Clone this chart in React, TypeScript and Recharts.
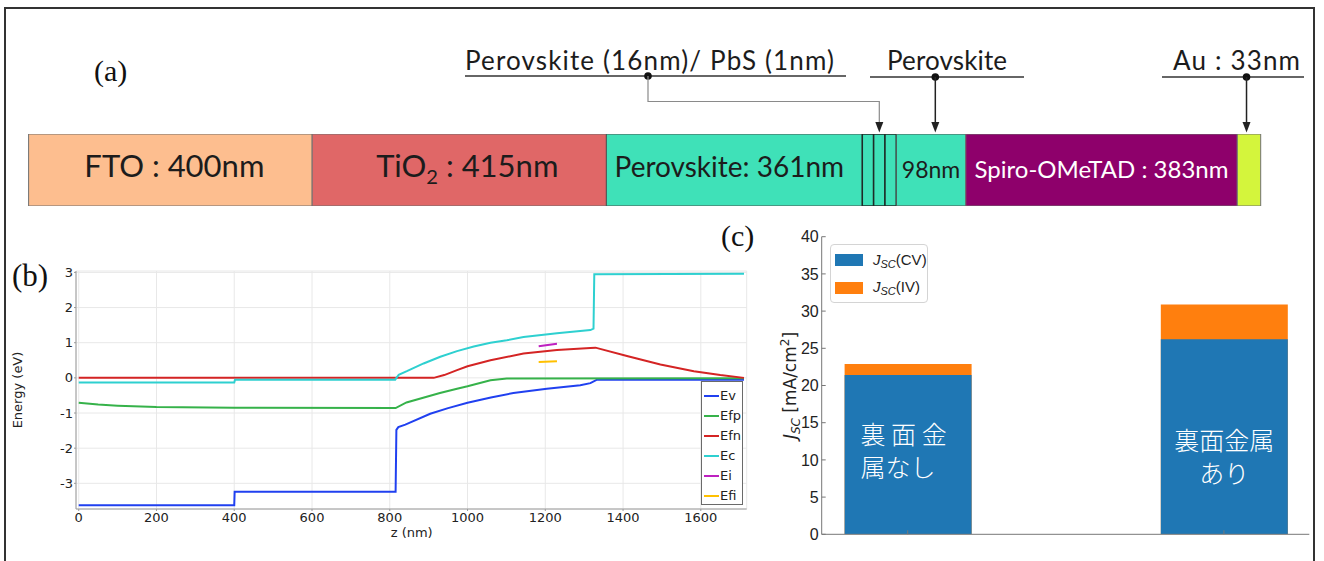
import React from 'react';
import { BarChart, Bar, XAxis, YAxis, LabelList, LineChart, Line, CartesianGrid, Legend } from 'recharts';

// ---------------- Panel (a): device layer stack ----------------
const layerKeys = ['fto', 'tio2', 'pero1', 'thinA', 'thinB', 'thinC', 'pero2', 'spiro', 'au'];
const layerThicknessNm = [400, 415, 361, 16, 16, 16, 98, 383, 33];
const layerLabels = ['FTO : 400nm', 'TiO₂ : 415nm', 'Perovskite: 361nm', '', '', '', '98nm', 'Spiro-OMeTAD : 383nm', ''];
const annotationTexts = ['Perovskite (16nm)/ PbS (1nm)', 'Perovskite', 'Au : 33nm'];
const annotationTargetNm = [1200, 1279, 1718];

// styles for panel (a)
const layerColors = ['#FDBE8F', '#E06767', '#3FE1B8', '#3FE1B8', '#3FE1B8', '#3FE1B8', '#3FE1B8', '#8E006B', '#D4F53C'];
const layerStrokes = ['#707070', '#707070', '#505050', '#1e2b27', '#1e2b27', '#1e2b27', '#505050', '#707070', '#707070'];
const layerTextColors = ['#1c1c1c', '#1c1c1c', '#1c1c1c', '', '', '', '#1c1c1c', '#ffffff', ''];
const layerFontSizes = [31, 31, 28, 0, 0, 0, 23, 24, 0];
const layerBaselineOffsets = [43, 43, 43, 0, 0, 0, 44, 44, 0];
const layerTextShift = [4, 8, -5, 0, 0, 0, 0, 0, 0];
const annotationTextX = [465, 887, 1173];
const annotationTextWidth = [369, 120, 127];
const annotationLine = [[465, 846, 76], [870, 1024, 77], [1162, 1304, 77]];

const A_LEFT = 28.6;
const A_RIGHT = 63.3;
const A_WIDTH = 1324;
const totalNm = layerThicknessNm.reduce((s, v) => s + v, 0);
const xOfNm = (nm: number) => A_LEFT + (nm * (A_WIDTH - A_LEFT - A_RIGHT)) / totalNm;

// ---------------- Panel (b): band diagram ----------------
const evPoints = [
  { z: 0, e: -3.62 }, { z: 400, e: -3.62 }, { z: 401, e: -3.24 }, { z: 815, e: -3.24 },
  { z: 817, e: -1.48 }, { z: 822, e: -1.4 }, { z: 840, e: -1.33 }, { z: 904, e: -1.02 },
  { z: 950, e: -0.86 }, { z: 1000, e: -0.71 }, { z: 1060, e: -0.56 }, { z: 1118, e: -0.43 },
  { z: 1204, e: -0.31 }, { z: 1290, e: -0.21 }, { z: 1316, e: -0.15 }, { z: 1333, e: -0.05 },
  { z: 1711, e: -0.05 },
];
const efpPoints = [
  { z: 0, e: -0.71 }, { z: 50, e: -0.76 }, { z: 100, e: -0.79 }, { z: 200, e: -0.83 },
  { z: 400, e: -0.85 }, { z: 815, e: -0.86 }, { z: 843, e: -0.7 }, { z: 929, e: -0.43 },
  { z: 973, e: -0.31 }, { z: 1000, e: -0.24 }, { z: 1059, e: -0.07 }, { z: 1101, e: -0.02 },
  { z: 1711, e: -0.01 },
];
const efnPoints = [
  { z: 0, e: 0 }, { z: 913, e: 0 }, { z: 940, e: 0.08 }, { z: 973, e: 0.22 },
  { z: 1000, e: 0.33 }, { z: 1059, e: 0.5 }, { z: 1144, e: 0.69 }, { z: 1230, e: 0.79 },
  { z: 1316, e: 0.85 }, { z: 1329, e: 0.86 }, { z: 1410, e: 0.62 }, { z: 1496, e: 0.38 },
  { z: 1582, e: 0.19 }, { z: 1650, e: 0.08 }, { z: 1711, e: 0 },
];
const ecPoints = [
  { z: 0, e: -0.13 }, { z: 400, e: -0.13 }, { z: 402, e: -0.05 }, { z: 814, e: -0.05 },
  { z: 823, e: 0.09 }, { z: 844, e: 0.19 }, { z: 887, e: 0.41 }, { z: 930, e: 0.6 },
  { z: 973, e: 0.76 }, { z: 1016, e: 0.89 }, { z: 1059, e: 1.0 }, { z: 1101, e: 1.07 },
  { z: 1144, e: 1.16 }, { z: 1230, e: 1.27 }, { z: 1316, e: 1.36 }, { z: 1324, e: 1.4 },
  { z: 1326, e: 2.95 }, { z: 1711, e: 2.96 },
];
const eiPoints = [{ z: 1183, e: 0.9 }, { z: 1230, e: 0.97 }];
const efiPoints = [{ z: 1183, e: 0.45 }, { z: 1230, e: 0.47 }];

const seriesNames = ['Ev', 'Efp', 'Efn', 'Ec', 'Ei', 'Efi'];
const seriesData = [evPoints, efpPoints, efnPoints, ecPoints, eiPoints, efiPoints];
const seriesColors = ['#2040F0', '#36B24A', '#D42424', '#2ED0D0', '#BE20C0', '#FFC000'];
const zTicks = [0, 200, 400, 600, 800, 1000, 1200, 1400, 1600];
const energyTicks = [-3, -2, -1, 0, 1, 2, 3];

// ---------------- Panel (c): Jsc bars ----------------
const jscCategories = ['裏面金属なし', '裏面金属あり'];
const jscCV = [21.4, 26.2];
const jscIV = [22.9, 30.9];
const jscTicks = [0, 5, 10, 15, 20, 25, 30, 35, 40];
const barTextLines = [['裏 面 金', '属なし'], ['裏面金属', 'あり']];
const jscSeriesLabels = ['CV', 'IV'];
const jscColors = ['#1F77B4', '#FF7F0E'];
const barTextAlign = ['start', 'middle'];
const barTextBaselines = [[-90, -57], [-84, -51]];

const jscData = jscCategories.map((name, i) => ({ x: i, name, cv: jscCV[i], iv: jscIV[i] }));

function renderLayerLabel(p: any, i: number) {
  const label = layerLabels[i];
  if (!label) return null;
  const cx = Number(p.x) + Number(p.width) / 2 + layerTextShift[i];
  const y = Number(p.y) + layerBaselineOffsets[i];
  const fs = layerFontSizes[i];
  const parts = label.split('₂');
  return (
    <text x={cx} y={y} textAnchor="middle" fill={layerTextColors[i]} fontFamily="Lato, 'Open Sans', sans-serif" fontSize={fs}>
      {parts.length === 2 ? (
        <>
          <tspan>{parts[0]}</tspan>
          <tspan fontSize={fs * 0.65} dy={7}>2</tspan>
          <tspan dy={-7}>{parts[1]}</tspan>
        </>
      ) : (
        label
      )}
    </text>
  );
}

function PanelA() {
  const row: any = { name: 'stack' };
  layerKeys.forEach((k, i) => (row[k] = layerThicknessNm[i]));
  return (
    <div style={{ position: 'absolute', left: 0, top: 134 }}>
      <BarChart width={A_WIDTH} height={72} layout="vertical" data={[row]} margin={{ top: 0, right: A_RIGHT, bottom: 0, left: A_LEFT }} barCategoryGap={0}>
        <XAxis type="number" hide domain={[0, totalNm]} />
        <YAxis type="category" dataKey="name" hide />
        {layerKeys.map((k, i) => (
          <Bar key={k} dataKey={k} stackId="s" fill={layerColors[i]} stroke={layerStrokes[i]} strokeWidth={i >= 3 && i <= 5 ? 1.5 : 1} isAnimationActive={false}>
            <LabelList content={(p: any) => renderLayerLabel(p, i)} />
          </Bar>
        ))}
      </BarChart>
    </div>
  );
}

function AnnotationsA() {
  return (
    <svg width={1324} height={140} style={{ position: 'absolute', left: 0, top: 0 }}>
      {annotationTexts.map((t, i) => {
        const tx = xOfNm(annotationTargetNm[i]);
        const [lx1, lx2, ly] = annotationLine[i];
        const dotX = i === 0 ? 648 : tx;
        return (
          <g key={i}>
            <text x={annotationTextX[i]} y={70} fontFamily="Lato, 'Open Sans', sans-serif" fontSize={26} fill="#1c1c1c" textLength={annotationTextWidth[i]} lengthAdjust="spacing">{t}</text>
            <line x1={lx1} x2={lx2} y1={ly} y2={ly} stroke="#333" strokeWidth={1.5} />
            <circle cx={dotX} cy={ly} r={3.8} fill="#111" />
            {i === 0 ? (
              <polyline points={`${dotX},${ly} ${dotX},101.5 ${tx},101.5 ${tx},123`} fill="none" stroke="#8a8a8a" strokeWidth={1.2} />
            ) : (
              <line x1={tx} x2={tx} y1={ly} y2={123} stroke="#222" strokeWidth={1.5} />
            )}
            <polygon points={`${tx - 4},122 ${tx + 4},122 ${tx},132.5`} fill="#222" />
          </g>
        );
      })}
    </svg>
  );
}

function BandLegend() {
  return (
    <div style={{ position: 'relative', width: 42, height: 124, boxSizing: 'border-box', border: '1px solid #6a6a6a', background: '#fff', fontFamily: "'DejaVu Sans', sans-serif", fontSize: 13, color: '#222' }}>
      {seriesNames.map((n, i) => (
        <div key={n} style={{ position: 'absolute', left: 2, top: 14 + i * 20 - 8, height: 16, display: 'flex', alignItems: 'center' }}>
          <div style={{ width: 15, height: 2, background: seriesColors[i] }} />
          <span style={{ marginLeft: 1, lineHeight: '16px' }}>{n}</span>
        </div>
      ))}
    </div>
  );
}

function PanelB() {
  const tickStyle = { fill: '#222', fontSize: 13, fontFamily: "'DejaVu Sans', sans-serif" };
  return (
    <div style={{ position: 'absolute', left: 0, top: 250 }}>
      <LineChart width={760} height={300} margin={{ top: 21, right: 13.3, bottom: 0, left: 36 }}>
        <CartesianGrid stroke="#e8e8e8" />
        <XAxis dataKey="z" type="number" domain={[-7, 1718]} ticks={zTicks} allowDataOverflow height={41} tickSize={2} tickMargin={2} stroke="#9a9a9a" tick={tickStyle} />
        <XAxis xAxisId="top" orientation="top" type="number" domain={[-7, 1718]} allowDataOverflow height={0} tick={false} tickLine={false} stroke="#9a9a9a" />
        <YAxis type="number" domain={[-3.73, 3.04]} ticks={energyTicks} allowDataOverflow width={40} tickSize={2} tickMargin={1} stroke="#9a9a9a" tick={tickStyle} />
        <YAxis yAxisId="right" orientation="right" type="number" domain={[-3.73, 3.04]} allowDataOverflow width={0} tick={false} tickLine={false} stroke="#9a9a9a" />
        {seriesNames.map((n, i) => (
          <Line key={n} name={n} data={seriesData[i]} dataKey="e" type="linear" stroke={seriesColors[i]} strokeWidth={2} dot={false} isAnimationActive={false} />
        ))}
        <Legend layout="vertical" align="center" verticalAlign="middle" wrapperStyle={{ left: 701, top: 131, width: 42, height: 124 }} content={() => <BandLegend />} />
      </LineChart>
    </div>
  );
}

function JscLegend() {
  return (
    <div style={{ position: 'relative', width: 98, height: 59, boxSizing: 'border-box', border: '1px solid #d4d4d4', borderRadius: 4, background: '#fff', fontFamily: "'Liberation Sans', Arial, sans-serif", fontSize: 15, color: '#222' }}>
      {jscSeriesLabels.map((s, i) => (
        <div key={s} style={{ position: 'absolute', left: 4, top: 3 + i * 27.5, height: 24, display: 'flex', alignItems: 'center' }}>
          <div style={{ width: 28, height: 12, background: jscColors[i] }} />
          <span style={{ marginLeft: 10, whiteSpace: 'nowrap' }}>
            <i>J</i>
            <i style={{ fontSize: 11, verticalAlign: '-3px' }}>SC</i>({s})
          </span>
        </div>
      ))}
    </div>
  );
}

function renderBarText(p: any) {
  const i = p.index;
  const x = Number(p.x);
  const w = Number(p.width);
  const bottom = Number(p.y) + Number(p.height);
  const anchor = barTextAlign[i];
  const tx = anchor === 'start' ? x + 16 : x + w / 2;
  return (
    <g>
      {barTextLines[i].map((line, j) => (
        <text key={j} x={tx} y={bottom + barTextBaselines[i][j]} textAnchor={anchor as any} fill="#ffffff" fontSize={25} fontFamily="'Noto Sans CJK JP', sans-serif" fontWeight={300}>
          {line}
        </text>
      ))}
    </g>
  );
}

function PanelC() {
  const tickStyle = { fill: '#222', fontSize: 16, fontFamily: "'Liberation Sans', Arial, sans-serif" };
  return (
    <div style={{ position: 'absolute', left: 740, top: 225 }}>
      <BarChart width={580} height={330} data={jscData} margin={{ top: 11.7, right: 10.7, bottom: 10.7, left: 31.7 }}>
        <XAxis dataKey="x" type="number" domain={[-0.272, 1.27]} ticks={[0, 1]} allowDataOverflow tickFormatter={() => ''} tickSize={-4} height={10} stroke="#777" />
        <XAxis xAxisId="top" orientation="top" dataKey="x" type="number" domain={[-0.272, 1.27]} allowDataOverflow tick={false} tickLine={false} height={0} stroke="#888" />
        <YAxis type="number" domain={[0, 40]} ticks={jscTicks} allowDataOverflow tickSize={-4} tickMargin={7} width={50} stroke="#777" tick={tickStyle} />
        <YAxis yAxisId="right" orientation="right" type="number" domain={[0, 40]} ticks={jscTicks} allowDataOverflow tickSize={-4} tickFormatter={() => ''} width={0} stroke="#888" />
        <Bar xAxisId="top" dataKey="iv" fill={jscColors[1]} barSize={127} isAnimationActive={false} />
        <Bar dataKey="cv" fill={jscColors[0]} barSize={127} isAnimationActive={false}>
          <LabelList content={renderBarText} />
        </Bar>
        <Legend layout="vertical" align="center" verticalAlign="middle" wrapperStyle={{ left: 90, top: 19, width: 98, height: 59 }} content={() => <JscLegend />} />
      </BarChart>
    </div>
  );
}

function Titles() {
  return (
    <svg width={1324} height={561} style={{ position: 'absolute', left: 0, top: 0, pointerEvents: 'none' }}>
      <text x={94} y={81} fontFamily="'Liberation Serif', serif" fontSize={30} fill="#111">(a)</text>
      <text x={12} y={286} fontFamily="'Liberation Serif', serif" fontSize={31} fill="#111">(b)</text>
      <text x={721} y={246} fontFamily="'Liberation Serif', serif" fontSize={30} fill="#111">(c)</text>
      <text x={17.7} y={394.5} transform="rotate(-90 17.7 390)" textAnchor="middle" fontFamily="'DejaVu Sans', sans-serif" fontSize={13} fill="#222">Energy (eV)</text>
      <text x={411.7} y={537} textAnchor="middle" fontFamily="'DejaVu Sans', sans-serif" fontSize={13} fill="#222">z (nm)</text>
      <text x={790} y={391.5} transform="rotate(-90 790 385.5)" textAnchor="middle" fontFamily="'DejaVu Sans', sans-serif" fontSize={17} fill="#222">
        <tspan fontStyle="italic">J</tspan>
        <tspan fontStyle="italic" fontSize={12} dy={4}>SC</tspan>
        <tspan dy={-4}> [mA/cm</tspan>
        <tspan fontSize={12} dy={-7}>2</tspan>
        <tspan dy={7}>]</tspan>
      </text>
    </svg>
  );
}

export default function App() {
  return (
    <div style={{ position: 'absolute', left: 0, top: 0, width: 1324, height: 561, background: '#fff', overflow: 'hidden' }}>
      <div style={{ position: 'absolute', left: 4, top: 7, width: 1307, height: 600, borderLeft: '2px solid #333', borderTop: '2px solid #333', borderRight: '2px solid #333' }} />
      <PanelA />
      <AnnotationsA />
      <PanelB />
      <PanelC />
      <Titles />
    </div>
  );
}
